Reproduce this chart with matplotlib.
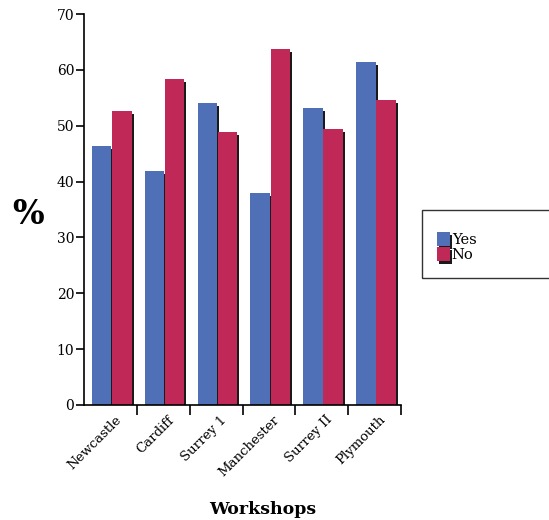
import numpy as np
import matplotlib
matplotlib.use("Agg")
import matplotlib.pyplot as plt
import matplotlib.patheffects as pe
from matplotlib.patches import Rectangle, Patch

workshops = ["Newcastle", "Cardiff", "Surrey 1", "Manchester", "Surrey II", "Plymouth"]
yes = [46.4, 41.9, 54.1, 38.0, 53.2, 61.4]
no = [52.6, 58.4, 48.9, 63.7, 49.4, 54.6]

blue = "#4f6fb7"
red = "#c02857"

plt.rcParams["font.family"] = ["DejaVu Serif"]

shade = [pe.withSimplePatchShadow(offset=(1.5, -2.0), shadow_rgbFace="#1a1a1a", alpha=1.0)]

fig = plt.figure(figsize=(5.49, 5.20), dpi=100)
ax = fig.add_axes([84 / 549, 115 / 520, 317 / 549, 391 / 520])

x = np.arange(len(workshops))
w = 0.37
ax.bar(x + 0.15, yes, w, align="edge", color=blue, zorder=2, path_effects=shade)
ax.bar(x + 0.53, no, w, align="edge", color=red, zorder=2, path_effects=shade)

ax.set_xlim(0, len(workshops))
ax.set_ylim(0, 70)
ax.set_yticks(range(0, 71, 10))
ax.set_xticks(np.arange(1, len(workshops) + 1))
ax.set_xticklabels([])
ax.set_xticks(x + 0.58, minor=True)
ax.set_xticklabels(workshops, minor=True, rotation=45, ha="right",
                   rotation_mode="anchor", fontsize=9.5)
ax.tick_params(axis="x", which="minor", length=0, pad=6)
ax.tick_params(axis="x", which="major", length=7, width=1.2, direction="out")
ax.tick_params(axis="y", length=6, width=1.2, direction="out", labelsize=10, pad=1)

for s in ["top", "right"]:
    ax.spines[s].set_visible(False)
for s in ["left", "bottom"]:
    ax.spines[s].set_linewidth(1.2)

fig.text(28 / 549, 1 - 215 / 520, "%", fontsize=24, fontweight="bold",
         ha="center", va="center")
fig.text(263 / 549, 1 - 510 / 520, "Workshops", fontsize=12.5, fontweight="bold",
         ha="center", va="center")

# legend frame
fig.patches.append(Rectangle((422 / 549, 1 - 278 / 520), 140 / 549, 68 / 520,
                             transform=fig.transFigure, fill=False,
                             edgecolor="#333333", linewidth=1.0))
handles = [Patch(facecolor=blue, label="Yes", path_effects=shade),
           Patch(facecolor=red, label="No", path_effects=shade)]
fig.legend(handles=handles, loc="upper left",
           bbox_to_anchor=(427 / 549, 1 - 222 / 520), frameon=False,
           fontsize=10.5, handlelength=0.9, handleheight=1.1,
           handletextpad=0.1, labelspacing=0.0, borderpad=0.2)

fig.savefig("out.png", dpi=100)
